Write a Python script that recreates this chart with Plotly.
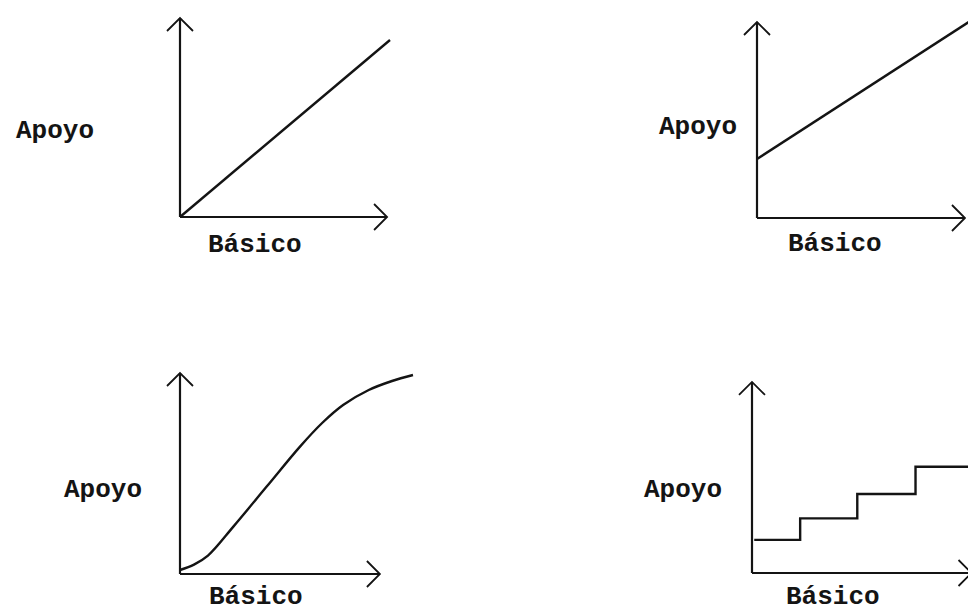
import plotly.graph_objects as go

# page body adds an 8px margin, so the figure is drawn 8px smaller and all
# placements are shifted by that amount
OFF = 8
W, H = 976 - OFF, 613 - OFF

# ---- data (schematic curves, 0-10 units) ----
lin_x = [0, 10]
lin_y = [0, 8.85]

int_x = [0, 10]
int_y = [2.95, 10]

s_x = [0, 0.6, 1.2, 2.29, 3.72, 5.15, 6.1, 7.0, 8.1, 9.1, 10]
s_y = [0.2, 0.47, 0.92, 2.37, 4.37, 6.37, 7.55, 8.45, 9.2, 9.65, 9.95]

st_x = [0.1, 2.15, 4.7, 7.3, 10]
st_y = [1.7, 2.8, 4.05, 5.45, 5.45]

y_label = "Apoyo"
x_label = "Básico"

# ---- panel geometry (window-pixel placement of each small chart) ----
panels = [
    dict(ox=180, oy=217, wpx=210, hpx=200, xtip=9.86, ytip=9.95,
         lab_y=(55, 131), lab_x=(255, 245), x=lin_x, y=lin_y, shape="linear"),
    dict(ox=757, oy=218, wpx=218, hpx=200, xtip=9.54, ytip=9.8,
         lab_y=(698, 127), lab_x=(835, 244), x=int_x, y=int_y, shape="linear"),
    dict(ox=180, oy=574, wpx=233, hpx=200, xtip=8.58, ytip=10.05,
         lab_y=(103, 490), lab_x=(256, 597), x=s_x, y=s_y, shape="spline"),
    dict(ox=752, oy=573, wpx=224, hpx=195, xtip=9.8, ytip=9.8,
         lab_y=(683, 490), lab_x=(833, 597), x=st_x, y=st_y, shape="hv"),
]

INK = "#141414"
FONT = dict(family="Courier New, Liberation Mono, monospace", size=26, color=INK,
            weight="bold")

fig = go.Figure()
annotations = []

for i, p in enumerate(panels, start=1):
    xs = "" if i == 1 else str(i)
    xa, ya = "x" + xs, "y" + xs
    ux = p["wpx"] / 10.0  # px per x unit
    uy = p["hpx"] / 10.0  # px per y unit
    ox, oy = p["ox"] - OFF, p["oy"] - OFF
    xmin, ymin = -1.0, -1.4
    xmax = min(10.4, (W - ox) / ux)
    ymax = min(10.7, oy / uy)
    dom_x = [(ox + xmin * ux) / W, (ox + xmax * ux) / W]
    dom_y = [1 - (oy - ymin * uy) / H, 1 - (oy - ymax * uy) / H]
    ax_common = dict(visible=False, showgrid=False, zeroline=False, fixedrange=True)
    fig.update_layout(**{
        "xaxis" + xs: dict(domain=dom_x, range=[xmin, xmax], anchor=ya, **ax_common),
        "yaxis" + xs: dict(domain=dom_y, range=[ymin, ymax], anchor=xa, **ax_common),
    })

    # axes lines
    fig.add_trace(go.Scatter(x=[0, 0, None, 0, p["xtip"]], y=[p["ytip"], 0, None, 0, 0],
                             mode="lines", line=dict(color=INK, width=2.2),
                             xaxis=xa, yaxis=ya, hoverinfo="skip", showlegend=False))
    # open chevron arrowheads
    a = 13.0
    yt, xt = p["ytip"], p["xtip"]
    fig.add_trace(go.Scatter(
        x=[-a / ux, 0, a / ux, None, xt - a / ux, xt, xt - a / ux],
        y=[yt - a / uy, yt, yt - a / uy, None, a / uy, 0, -a / uy],
        mode="lines", line=dict(color=INK, width=1.8), xaxis=xa, yaxis=ya,
        hoverinfo="skip", showlegend=False))
    # data curve
    ls = dict(color=INK, width=2.4, shape=p["shape"])
    if p["shape"] == "spline":
        ls["smoothing"] = 1.0
    fig.add_trace(go.Scatter(x=p["x"], y=p["y"], mode="lines", line=ls,
                             xaxis=xa, yaxis=ya, hoverinfo="skip", showlegend=False))

    annotations.append(dict(text=y_label, x=(p["lab_y"][0] - OFF) / W,
                            y=1 - (p["lab_y"][1] - OFF) / H,
                            xref="paper", yref="paper", showarrow=False,
                            xanchor="center", yanchor="middle", font=FONT))
    annotations.append(dict(text=x_label, x=(p["lab_x"][0] - OFF) / W,
                            y=1 - (p["lab_x"][1] - OFF) / H,
                            xref="paper", yref="paper", showarrow=False,
                            xanchor="center", yanchor="middle", font=FONT))

fig.update_layout(width=W, height=H, margin=dict(l=0, r=0, t=0, b=0),
                  paper_bgcolor="white", plot_bgcolor="white",
                  annotations=annotations, showlegend=False)

fig.write_html("out.html")
